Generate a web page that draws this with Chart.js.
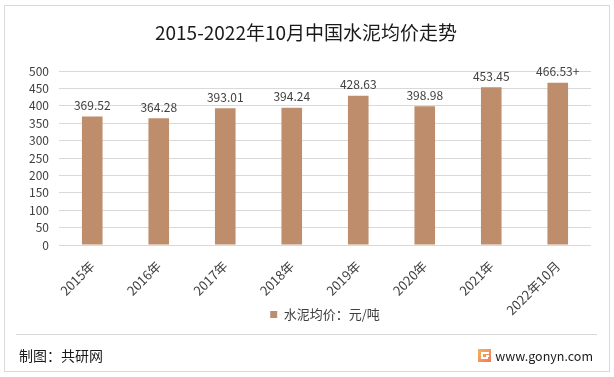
<!DOCTYPE html>
<html>
<head>
<meta charset="utf-8">
<script src="https://cdn.jsdelivr.net/npm/chart.js@4.4.1/dist/chart.umd.min.js"></script>
<style>
  html, body { margin: 0; padding: 0; background: #fff; }
  #wrap { position: relative; width: 614px; height: 377px; }
</style>
</head>
<body>
<div id="wrap"><canvas id="cementChart" width="614" height="377"></canvas></div>
<script>
const categories = ['2015年', '2016年', '2017年', '2018年', '2019年', '2020年', '2021年', '2022年10月'];
const priceValues = [369.52, 364.28, 393.01, 394.24, 428.63, 398.98, 453.45, 466.53];
const valueLabels = ['369.52', '364.28', '393.01', '394.24', '428.63', '398.98', '453.45', '466.53+'];
const yMin = 0, yMax = 500, yStep = 50;

const FONT = "'Noto Sans CJK SC', 'Noto Sans', sans-serif";
const barColor = '#be8e6c';

// frame, title, footer and bar value labels
const decorPlugin = {
    id: 'decor',
    beforeDraw(chart) {
        const c = chart.ctx;
        c.save();
        c.fillStyle = '#fff';
        c.fillRect(0, 0, chart.width, chart.height);
        c.strokeStyle = '#d9d9d9';
        c.lineWidth = 1;
        c.strokeRect(4.5, 5.5, 605, 366);
        c.restore();
    },
    afterDatasetsDraw(chart) {
        const c = chart.ctx;
        const meta = chart.getDatasetMeta(0);
        c.save();
        c.font = '12px ' + FONT;
        c.fillStyle = '#404040';
        c.textAlign = 'center';
        c.textBaseline = 'bottom';
        meta.data.forEach((bar, i) => {
            c.fillText(valueLabels[i], bar.x, bar.y - 5);
        });
        c.restore();
    },
    afterDraw(chart) {
        const c = chart.ctx;
        c.save();
        // title
        c.font = '19px ' + FONT;
        c.fillStyle = '#1a1a1a';
        c.textAlign = 'center';
        c.textBaseline = 'middle';
        c.fillText('2015-2022年10月中国水泥均价走势', 306, 33);
        // footer line
        c.strokeStyle = '#d9d9d9';
        c.beginPath();
        c.moveTo(16, 334.5);
        c.lineTo(597, 334.5);
        c.stroke();
        // footer text
        c.font = '14px ' + FONT;
        c.fillStyle = '#1a1a1a';
        c.textAlign = 'left';
        c.fillText('制图：共研网', 19, 356);
        c.font = '12.5px ' + FONT;
        c.textAlign = 'right';
        c.fillText('www.gonyn.com', 593, 356);
        // logo
        const g = c.createLinearGradient(478, 349, 491, 362);
        g.addColorStop(0, '#f7b35a');
        g.addColorStop(1, '#f07a5a');
        c.fillStyle = g;
        c.fillRect(478, 349, 13, 13);
        c.fillStyle = '#fff';
        c.fillRect(481, 352, 8, 2);
        c.fillRect(481, 354, 2, 5);
        c.fillRect(483, 357, 5, 2);
        c.fillRect(486, 355, 3, 2);
        c.restore();
    }
};

const ctx = document.getElementById('cementChart').getContext('2d');
new Chart(ctx, {
    type: 'bar',
    data: {
        labels: categories,
        datasets: [{
            label: '水泥均价：元/吨',
            data: priceValues,
            backgroundColor: barColor,
            borderWidth: 0,
            barPercentage: 0.31,
            categoryPercentage: 1.0
        }]
    },
    options: {
        responsive: false,
        animation: false,
        layout: {
            padding: { left: 14, right: 23, top: 71, bottom: 46 }
        },
        scales: {
            y: {
                min: yMin,
                max: yMax,
                ticks: {
                    stepSize: yStep,
                    padding: 10,
                    color: '#404040',
                    font: { family: FONT, size: 12 }
                },
                grid: { color: '#d9d9d9', drawTicks: false },
                border: { display: false },
                afterFit(scale) { scale.width = 45; }
            },
            x: {
                ticks: {
                    minRotation: 45,
                    maxRotation: 45,
                    color: '#404040',
                    padding: 5,
                    font: { family: FONT, size: 13 }
                },
                grid: { display: false },
                border: { display: false },
                afterFit(scale) {
                    scale.height = 59;
                    // let the long rotated label run past the axis box
                    scale._computeLabelArea = () => undefined;
                }
            }
        },
        plugins: {
            legend: {
                position: 'bottom',
                fullSize: false,
                labels: {
                    boxWidth: 7,
                    boxHeight: 7,
                    padding: 4,
                    color: '#404040',
                    font: { family: FONT, size: 13 }
                }
            },
            tooltip: { enabled: false }
        }
    },
    plugins: [decorPlugin]
});
</script>
</body>
</html>
